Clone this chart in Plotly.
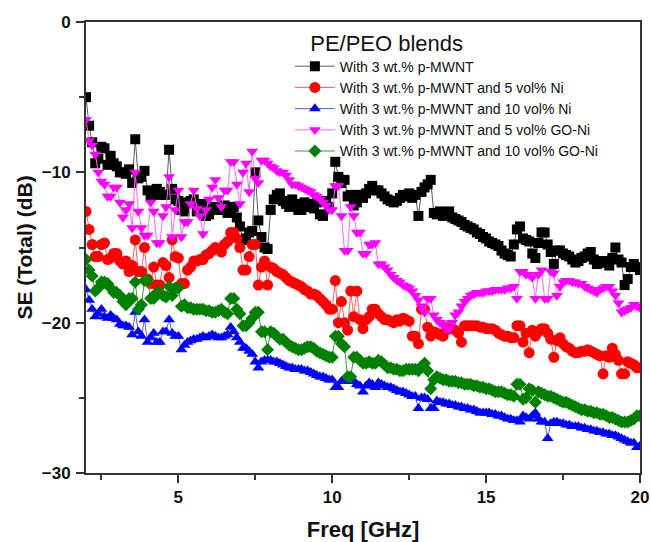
import plotly.graph_objects as go

# frequency sweep 2.0 ... 20.0 GHz, 0.1 GHz step
freq = [round(2.0 + 0.1 * i, 1) for i in range(181)]

se_mwnt = [
    -5.0, -6.9, -8.0, -9.4, -9.1, -8.3, -8.4, -9.5, -8.9, -9.4,
    -9.6, -10.0, -10.0, -10.1, -9.8, -10.7, -7.8, -10.4, -10.3, -9.9,
    -11.2, -11.6, -11.5, -11.1, -11.3, -11.5, -11.5, -8.5, -11.1, -11.8,
    -11.9, -12.5, -12.6, -12.0, -11.9, -11.8, -12.6, -12.5, -12.1, -12.9,
    -12.8, -12.4, -12.3, -12.5, -12.5, -12.2, -12.7, -12.6, -12.3, -13.0,
    -13.6, -14.5, -14.4, -14.0, -13.9, -10.0, -13.2, -14.3, -15.0, -15.1,
    -12.5, -11.8, -11.5, -11.4, -11.9, -12.1, -12.3, -11.8, -12.1, -12.5,
    -12.5, -12.0, -12.1, -12.3, -12.4, -12.0, -12.8, -12.9, -11.9, -12.3,
    -11.4, -9.3, -10.3, -10.7, -10.5, -11.6, -11.5, -12.2, -12.0, -11.5,
    -11.7, -11.4, -11.1, -10.9, -11.2, -11.2, -11.4, -11.6, -11.8, -11.9,
    -12.0, -11.9, -11.7, -11.5, -11.6, -11.4, -11.7, -11.5, -12.9, -11.3,
    -11.0, -10.8, -10.5, -12.7, -12.8, -12.6, -12.9, -12.8, -12.6, -13.0,
    -13.1, -13.2, -13.3, -13.5, -13.6, -13.7, -13.8, -14.0, -14.1, -14.3,
    -14.4, -14.6, -14.7, -14.8, -14.9, -15.2, -15.4, -15.5, -15.6, -14.8,
    -13.8, -13.6, -14.4, -14.5, -14.6, -15.4, -15.7, -14.7, -14.0, -14.0,
    -14.8, -15.3, -16.1, -15.2, -15.2, -15.4, -15.5, -15.6, -15.8, -16.0,
    -15.9, -15.7, -15.6, -15.4, -15.3, -15.8, -16.1, -16.0, -15.9, -16.0,
    -16.2, -15.7, -15.0, -15.8, -16.0, -17.5, -17.1, -16.3, -16.1, -16.3,
    -16.5]

se_ni5 = [
    -12.6, -13.8, -14.8, -15.6, -15.6, -14.8, -14.7, -15.8, -15.7, -15.4,
    -15.4, -15.9, -16.1, -15.9, -16.6, -16.2, -14.5, -16.6, -16.6, -15.0,
    -17.1, -17.4, -16.3, -17.5, -17.5, -16.0, -16.2, -17.0, -14.5, -15.6,
    -15.7, -17.4, -17.4, -16.5, -16.3, -15.9, -15.9, -15.8, -15.8, -15.5,
    -15.4, -15.2, -15.0, -15.1, -15.3, -14.8, -14.6, -14.0, -14.0, -14.4,
    -15.0, -16.5, -16.5, -15.6, -14.8, -14.8, -17.5, -16.3, -15.9, -17.5,
    -16.3, -16.4, -16.6, -16.7, -16.8, -17.0, -17.2, -17.3, -17.4, -17.5,
    -17.6, -17.8, -17.9, -18.1, -18.1, -18.2, -18.4, -18.6, -18.8, -19.1,
    -19.1, -17.2, -20.0, -18.6, -20.0, -20.5, -17.9, -19.6, -17.9, -19.8,
    -20.4, -19.8, -19.6, -19.1, -19.1, -19.4, -19.6, -19.8, -19.8, -19.9,
    -20.0, -19.8, -19.9, -19.7, -19.8, -19.9, -20.9, -20.9, -21.4, -19.1,
    -19.1, -20.3, -20.9, -20.6, -20.7, -20.8, -20.9, -20.5, -20.4, -20.4,
    -20.5, -20.7, -21.3, -20.2, -20.2, -20.2, -20.2, -20.2, -20.3, -20.3,
    -20.4, -20.4, -20.4, -20.5, -20.7, -20.8, -20.9, -20.9, -21.0, -21.0,
    -20.2, -20.2, -21.3, -20.7, -22.0, -20.5, -20.9, -20.6, -20.4, -20.4,
    -20.7, -21.1, -22.3, -21.2, -21.0, -21.4, -21.6, -21.7, -21.9, -22.0,
    -22.0, -21.9, -21.9, -21.8, -21.9, -22.0, -22.1, -22.2, -23.4, -22.2,
    -22.3, -21.7, -22.1, -22.5, -23.4, -23.4, -22.6, -22.7, -22.8, -23.0,
    -23.0]

se_ni10 = [
    -17.8, -18.5, -19.1, -19.6, -19.4, -19.1, -19.6, -19.7, -19.5, -19.7,
    -19.8, -20.1, -20.2, -20.2, -20.3, -20.8, -19.3, -20.6, -20.9, -19.8,
    -21.3, -21.0, -20.7, -21.3, -21.3, -20.6, -20.6, -19.8, -20.7, -20.9,
    -20.9, -21.8, -21.5, -21.3, -21.2, -21.1, -21.1, -21.0, -20.9, -21.0,
    -20.9, -20.8, -20.9, -21.0, -21.0, -20.9, -20.8, -20.3, -20.6, -21.0,
    -21.3, -21.7, -21.7, -21.9, -22.1, -22.6, -23.0, -22.6, -22.5, -22.5,
    -22.5, -22.6, -22.6, -22.7, -22.8, -22.9, -23.0, -23.0, -23.1, -23.1,
    -23.1, -23.2, -23.2, -23.3, -23.4, -23.5, -23.6, -23.6, -23.7, -23.8,
    -23.8, -24.3, -24.3, -23.9, -23.8, -23.9, -23.9, -23.9, -24.1, -24.2,
    -24.6, -24.2, -24.0, -24.1, -24.3, -24.0, -24.1, -24.2, -24.3, -24.3,
    -24.4, -24.5, -24.6, -24.6, -24.7, -24.8, -24.9, -24.9, -25.7, -25.0,
    -25.0, -25.1, -25.7, -25.7, -25.2, -25.3, -25.3, -25.4, -25.4, -25.5,
    -25.5, -25.6, -25.6, -25.7, -25.7, -25.8, -25.8, -25.9, -26.0, -26.0,
    -26.0, -26.0, -26.1, -26.1, -26.2, -26.2, -26.3, -26.4, -26.4, -26.5,
    -26.5, -26.6, -26.2, -26.3, -26.4, -26.2, -26.0, -26.4, -26.6, -26.6,
    -27.7, -26.7, -26.6, -26.6, -26.7, -26.7, -26.8, -26.8, -26.9, -26.9,
    -26.9, -27.0, -27.0, -27.1, -27.1, -27.2, -27.2, -27.3, -27.3, -27.4,
    -27.4, -27.5, -27.5, -27.6, -27.7, -27.8, -27.9, -28.0, -28.0, -28.3,
    -28.2]

se_go5 = [
    -6.5, -7.9, -8.2, -8.8, -10.0, -10.6, -10.8, -11.6, -11.6, -11.0,
    -11.0, -12.0, -13.0, -12.5, -12.1, -13.7, -10.0, -12.6, -13.7, -14.2,
    -14.2, -12.0, -12.6, -14.7, -14.7, -12.9, -12.3, -10.3, -14.3, -12.5,
    -11.2, -14.3, -13.3, -13.3, -12.1, -11.2, -12.4, -12.9, -14.1, -12.5,
    -11.8, -11.0, -10.5, -11.7, -12.3, -11.2, -11.2, -9.3, -9.3, -10.8,
    -12.1, -10.0, -9.4, -11.3, -8.6, -10.4, -10.7, -9.2, -9.2, -9.4,
    -9.6, -9.7, -9.9, -10.0, -10.0, -10.2, -10.5, -10.8, -10.8, -10.9,
    -11.0, -11.1, -11.2, -11.3, -11.5, -11.6, -11.8, -12.0, -12.2, -12.5,
    -12.5, -10.9, -10.9, -12.9, -15.2, -15.2, -12.3, -12.9, -14.0, -14.0,
    -15.4, -15.4, -14.8, -14.8, -14.7, -16.1, -16.1, -16.3, -16.5, -16.8,
    -17.0, -17.2, -17.3, -17.5, -17.6, -17.7, -17.9, -18.2, -18.5, -18.9,
    -19.3, -18.4, -18.4, -19.5, -19.8, -20.0, -20.1, -20.4, -20.4, -20.0,
    -19.5, -19.3, -18.9, -18.6, -18.4, -18.2, -18.1, -18.0, -18.0, -18.0,
    -17.9, -17.9, -17.9, -17.8, -17.8, -17.8, -17.8, -17.7, -17.7, -17.6,
    -18.4, -16.6, -16.6, -16.8, -16.8, -17.0, -18.4, -16.8, -16.5, -18.4,
    -18.4, -16.6, -16.7, -18.2, -17.6, -17.3, -17.2, -17.2, -17.3, -17.3,
    -17.4, -17.4, -17.6, -17.7, -17.8, -17.9, -18.0, -17.8, -17.7, -17.6,
    -17.6, -17.9, -18.2, -18.7, -19.3, -19.2, -19.1, -19.0, -18.8, -18.9,
    -19.0]

se_go10 = [
    -15.8, -16.5, -16.9, -17.9, -17.7, -17.3, -17.3, -17.4, -17.7, -18.0,
    -18.0, -18.2, -18.6, -18.8, -18.4, -18.4, -17.3, -19.1, -18.8, -17.2,
    -17.2, -18.4, -18.4, -18.0, -18.0, -18.2, -18.3, -17.6, -18.2, -17.7,
    -17.7, -18.9, -18.8, -19.0, -19.0, -19.1, -19.1, -19.1, -19.1, -19.2,
    -19.2, -19.3, -19.3, -19.2, -19.1, -19.3, -19.4, -18.4, -18.4, -19.1,
    -19.4, -20.2, -20.2, -20.0, -19.7, -19.3, -19.3, -20.6, -20.6, -21.8,
    -20.6, -20.7, -20.9, -21.1, -21.1, -21.3, -21.5, -21.6, -21.7, -21.8,
    -21.8, -21.7, -21.6, -21.6, -21.7, -21.9, -22.0, -22.1, -22.2, -22.3,
    -22.3, -20.9, -20.9, -21.4, -21.6, -23.6, -23.6, -22.3, -22.3, -22.5,
    -22.7, -22.7, -22.6, -22.7, -22.7, -22.5, -22.6, -22.8, -23.0, -23.0,
    -23.1, -23.1, -23.2, -23.2, -23.1, -23.1, -23.1, -23.1, -23.2, -22.9,
    -22.7, -23.2, -24.4, -23.8, -23.6, -23.7, -23.8, -23.8, -23.9, -23.9,
    -23.9, -24.0, -24.0, -24.1, -24.1, -24.1, -24.2, -24.2, -24.3, -24.3,
    -24.4, -24.4, -24.5, -24.6, -24.6, -24.6, -24.7, -24.8, -24.8, -24.9,
    -24.1, -24.1, -25.1, -25.0, -24.4, -24.5, -25.3, -24.6, -24.7, -24.8,
    -24.9, -24.9, -25.0, -25.1, -25.2, -25.3, -25.3, -25.4, -25.5, -25.6,
    -25.7, -25.8, -25.8, -25.9, -25.9, -26.0, -26.0, -26.1, -26.1, -26.2,
    -26.3, -26.3, -26.4, -26.5, -26.6, -26.6, -26.6, -26.5, -26.4, -26.2,
    -26.2]

names = ["With 3 wt.% p-MWNT",
         "With 3 wt.% p-MWNT and 5 vol% Ni",
         "With 3 wt.% p-MWNT and 10 vol% Ni",
         "With 3 wt.% p-MWNT and 5 vol% GO-Ni",
         "With 3 wt.% p-MWNT and 10 vol% GO-Ni"]
series = [se_mwnt, se_ni5, se_ni10, se_go5, se_go10]
marker_colors = ["#000000", "#ff0000", "#0000ff", "#ff00ff", "#008000"]
line_colors = ["#5a5a5a", "#ff5a5a", "#5a5aff", "#ff66ff", "#3c9a3c"]
symbols = ["square", "circle", "triangle-up", "triangle-down", "diamond"]
sizes = [10, 11, 10.5, 10.5, 10]

FONT = "Arial, Liberation Sans, sans-serif"

fig = go.Figure()
for nm, ys, mc, lc, sym, sz in zip(names, series, marker_colors, line_colors, symbols, sizes):
    fig.add_trace(go.Scatter(
        x=freq, y=ys, name=nm, mode="lines+markers",
        line=dict(color=lc, width=1),
        marker=dict(symbol=sym, size=sz, color=mc, line=dict(width=0)),
    ))

axis_common = dict(
    showline=True, linecolor="#333333", linewidth=2, mirror=True,
    ticks="outside", ticklen=8, tickwidth=1.5, tickcolor="#333333",
    showgrid=False, zeroline=False, automargin=False,
    tickfont=dict(family=FONT, size=17, color="#111111", weight="bold"),
)

fig.update_layout(
    width=651, height=542,
    margin=dict(l=86, r=11, t=22, b=69),
    paper_bgcolor="white", plot_bgcolor="white",
    font=dict(family=FONT, color="#111111"),
    xaxis=dict(range=[2, 20], tickvals=[5, 10, 15, 20],
               minor=dict(tickvals=[2.5, 7.5, 12.5, 17.5], ticks="outside", ticklen=5,
                          tickcolor="#333333", tickwidth=1.5),
               title=dict(text="Freq [GHz]", font=dict(family=FONT, size=22, weight="bold"), standoff=24),
               **axis_common),
    yaxis=dict(range=[-30, 0], tickvals=[0, -10, -20, -30],
               minor=dict(tickvals=[-5, -15, -25], ticks="outside", ticklen=5,
                          tickcolor="#333333", tickwidth=1.5),
               ticklabelstandoff=2,
               title=dict(text="SE (Total) (dB)", font=dict(family=FONT, size=21, weight="bold"), standoff=3),
               **axis_common),
    legend=dict(
        x=0.368, y=1.0, xanchor="left", yanchor="top",
        bgcolor="rgba(0,0,0,0)", borderwidth=0,
        font=dict(family=FONT, size=14, color="#111111"),
        title=dict(text="   PE/PEO blends", side="top", font=dict(family=FONT, size=22, color="#111111")),
        tracegroupgap=0, itemwidth=40,
    ),
    showlegend=True,
)

fig.write_html("out.html")
